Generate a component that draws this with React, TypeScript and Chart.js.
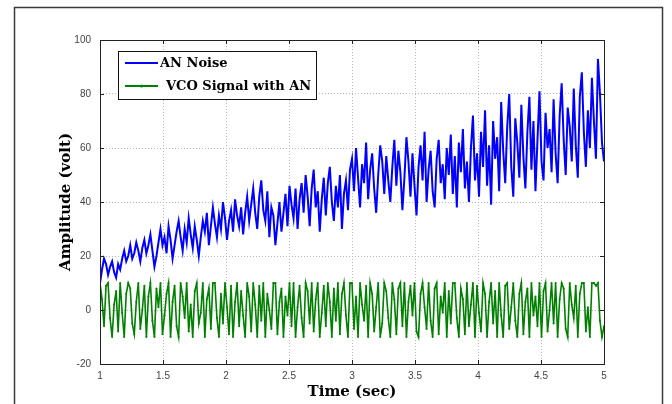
import React, { useEffect, useRef } from "react";
import { Chart, registerables } from "chart.js";

Chart.register(...registerables);

// Sampling grid of the time axis (sec)
const TIME_START = 1;
const TIME_STEP = 0.016;

const X_TICKS = [1, 1.5, 2, 2.5, 3, 3.5, 4, 4.5, 5];
const Y_TICKS = [-20, 0, 20, 40, 60, 80, 100];

// AN Noise (blue)
const anNoise = [
  10, 15, 19, 17, 13, 16, 18, 14, 12, 17, 15, 19, 22, 18, 20, 24, 19, 21, 25, 22, 18, 23, 26, 21, 24,
  28, 22, 16, 20, 25, 30, 24, 27, 21, 31, 26, 19, 24, 29, 33, 27, 22, 30, 25, 34, 28, 23, 31, 26, 20,
  27, 33, 29, 36, 24, 31, 38, 32, 27, 35, 30, 40, 34, 26, 33, 37, 29, 41, 35, 31, 38, 28, 36, 42, 33,
  39, 45, 36, 30, 42, 48, 37, 33, 44, 27, 38, 35, 24, 32, 40, 29, 36, 43, 31, 46, 39, 34, 45, 30, 41,
  47, 36, 50, 42, 31, 45, 52, 38, 44, 29, 41, 49, 35, 47, 53, 40, 33, 46, 38, 50, 30, 43, 48, 37, 52,
  56, 44, 60, 49, 38, 54, 47, 62, 41, 52, 58, 45, 36, 50, 61, 55, 43, 57, 48, 40, 53, 63, 46, 59, 51,
  37, 49, 64, 55, 42, 58, 46, 35, 53, 61, 48, 66, 40, 52, 59, 44, 38, 56, 63, 47, 54, 41, 60, 50, 65,
  43, 57, 38, 62, 51, 67, 45, 55, 40, 60, 72, 48, 58, 42, 66, 53, 74, 46, 61, 39, 70, 56, 64, 44, 77,
  59, 47, 68, 80, 53, 42, 71, 62, 49, 76, 57, 45, 66, 79, 52, 70, 44, 63, 81, 55, 48, 73, 60, 67, 51,
  78, 58, 47, 72, 84, 63, 50, 75, 68, 55, 82, 61, 49, 79, 88, 66, 53, 74, 60, 86, 70, 56, 93, 80, 62,
  55,
];

// VCO Signal with AN (green)
const vcoSignal = [
  10, 4, -6, 9, 10, -3, -10, 2, 7, -8, 10, -1, -10, 6, 10, 8, -5, -9, 3, 10, -7, 0, 9, -10, 5,
  10, -4, -10, 8, 1, 10, -9, -2, 6, 10, -10, 3, 9, -6, -10, 10, 5, -3, 10, -8, 2, -10, 7, 10, -5,
  -1, 10, -10, 4, 8, -7, 10, 10, -3, -10, 6, -5, 10, 1, -9, 9, -10, 3, 10, -6, 7, -2, -10, 10, 5,
  -8, 10, 2, -10, 9, -4, 10, -10, 6, 0, -7, 10, 10, -9, 3, 8, -10, 5, -2, 10, -6, 10, -10, 1, 9,
  -3, -10, 10, 7, -5, 10, -8, 4, 10, -10, -1, 9, -6, 10, 3, -10, 8, -4, 10, -9, 6, 10, -2, -10, 10,
  10, -7, 5, -10, 10, 2, -4, 9, -10, 10, 6, -8, 1, 10, -10, -5, 10, 7, -3, -10, 10, 4, -9, 8, 10,
  -6, 10, -10, 3, 9, -2, 10, -8, -10, 6, 10, 1, -7, 10, -4, -10, 8, 10, -9, 5, -1, 10, -10, 7, -5,
  10, 10, -3, -10, 8, 4, -9, 10, -6, 2, 10, -10, 9, -1, -8, 10, 6, -10, 3, 10, -5, 7, -10, 10, -2,
  -10, 9, 10, -7, 1, 10, -4, -10, 6, 10, -9, 3, 8, -10, 10, -2, 5, -6, 10, -10, 7, 10, -8, 0, 10,
  -5, 10, -10, 4, 10, 8, -7, -10, 10, 2, -3, 9, -10, 6, 10, 10, -8, 1, -10, 10, 10, 9, 10, -4, -10,
  -6,
];

const SERIES_LABELS = ["AN Noise", "VCO Signal with AN"];
const X_TITLE = "Time (sec)";
const Y_TITLE = "Amplitude (volt)";

const toPoints = (vals: number[]) =>
  vals.map((v, i) => ({ x: +(TIME_START + i * TIME_STEP).toFixed(3), y: v }));

const framePlugin = {
  id: "frame",
  beforeDraw(chart: any) {
    const { ctx, width, height } = chart;
    ctx.save();
    ctx.fillStyle = "#ffffff";
    ctx.fillRect(0, 0, width, height);
    ctx.strokeStyle = "#3a3a3a";
    ctx.lineWidth = 1.5;
    ctx.strokeRect(14.5, 7.5, 648, height + 20);
    ctx.restore();
  },
};

const boxPlugin = {
  id: "plotbox",
  afterDatasetsDraw(chart: any) {
    const { ctx, chartArea: a, scales } = chart;
    ctx.save();
    ctx.strokeStyle = "#222";
    ctx.lineWidth = 1;
    ctx.strokeRect(a.left + 0.5, a.top + 0.5, a.right - a.left, a.bottom - a.top);
    ctx.beginPath();
    const L = 4;
    X_TICKS.forEach((t) => {
      const x = Math.round(scales.x.getPixelForValue(t)) + 0.5;
      ctx.moveTo(x, a.bottom);
      ctx.lineTo(x, a.bottom - L);
      ctx.moveTo(x, a.top);
      ctx.lineTo(x, a.top + L);
    });
    Y_TICKS.forEach((t) => {
      const y = Math.round(scales.y.getPixelForValue(t)) + 0.5;
      ctx.moveTo(a.left, y);
      ctx.lineTo(a.left + L, y);
      ctx.moveTo(a.right, y);
      ctx.lineTo(a.right - L, y);
    });
    ctx.stroke();
    ctx.restore();
  },
};

const legendPlugin = {
  id: "customLegend",
  afterDraw(chart: any) {
    const { ctx } = chart;
    const x0 = 118, y0 = 51, w = 198, h = 48;
    ctx.save();
    ctx.fillStyle = "#ffffff";
    ctx.fillRect(x0, y0, w, h);
    ctx.strokeStyle = "#111";
    ctx.lineWidth = 1;
    ctx.strokeRect(x0 + 0.5, y0 + 0.5, w, h);
    const rows = [63, 86];
    chart.data.datasets.forEach((ds: any, i: number) => {
      const y = rows[i];
      ctx.strokeStyle = ds.borderColor;
      ctx.lineWidth = 2;
      ctx.beginPath();
      ctx.moveTo(125, y);
      ctx.lineTo(158, y);
      ctx.stroke();
      if (i === 1) {
        ctx.fillStyle = ds.borderColor;
        ctx.beginPath();
        ctx.arc(141.5, y, 1.5, 0, Math.PI * 2);
        ctx.fill();
      }
      ctx.fillStyle = "#000";
      ctx.font = "bold 13px 'DejaVu Serif'";
      ctx.textBaseline = "middle";
      ctx.textAlign = "left";
      ctx.fillText(ds.label, i === 0 ? 160 : 166, y + 1);
    });
    ctx.restore();
  },
};

export default function App() {
  const ref = useRef<HTMLCanvasElement | null>(null);

  useEffect(() => {
    if (!ref.current) return;
    const tickFont = { family: "'Liberation Sans', Arial, sans-serif", size: 10 };
    const titleFont = { family: "'DejaVu Serif', serif", size: 15, weight: "bold" as const };
    const chart = new Chart(ref.current, {
      type: "line",
      data: {
        datasets: [
          {
            label: SERIES_LABELS[0],
            data: toPoints(anNoise),
            borderColor: "#0000ff",
            backgroundColor: "#0000ff",
            borderWidth: 2,
            pointRadius: 0,
            tension: 0,
          },
          {
            label: SERIES_LABELS[1],
            data: toPoints(vcoSignal),
            borderColor: "#008000",
            backgroundColor: "#008000",
            borderWidth: 1.6,
            pointRadius: 1,
            pointBorderWidth: 0,
            tension: 0,
          },
        ],
      },
      options: {
        animation: false,
        responsive: false,
        layout: { padding: { left: 0, top: 40, right: 68, bottom: 0 } },
        plugins: {
          legend: { display: false },
          tooltip: { enabled: false },
        },
        scales: {
          x: {
            type: "linear",
            min: 1,
            max: 5,
            afterBuildTicks: (s: any) => {
              s.ticks = X_TICKS.map((v) => ({ value: v }));
            },
            afterFit: (s: any) => {
              s.height = 40;
            },
            ticks: {
              color: "#444",
              font: tickFont,
              padding: 6,
              maxRotation: 0,
              callback: (v: any) => String(v),
            },
            grid: { color: "#b8b8b8", lineWidth: 1, drawTicks: false },
            border: { display: false, dash: [1, 2] },
            title: {
              display: true,
              text: X_TITLE,
              color: "#000",
              font: titleFont,
              padding: { top: 0, bottom: 3 },
            },
          },
          y: {
            type: "linear",
            min: -20,
            max: 100,
            afterBuildTicks: (s: any) => {
              s.ticks = Y_TICKS.map((v) => ({ value: v }));
            },
            afterFit: (s: any) => {
              s.width = 100;
            },
            ticks: { color: "#444", font: tickFont, padding: 9, callback: (v: any) => String(v) },
            grid: { color: "#b8b8b8", lineWidth: 1, drawTicks: false },
            border: { display: false, dash: [1, 2] },
            title: {
              display: true,
              text: Y_TITLE,
              color: "#000",
              font: titleFont,
              padding: { top: 57, bottom: 0 },
            },
          },
        },
      },
      plugins: [framePlugin, boxPlugin, legendPlugin],
    });
    return () => chart.destroy();
  }, []);

  return (
    <div style={{ position: "fixed", left: 0, top: 0, width: 672, height: 404, background: "#fff" }}>
      <canvas ref={ref} width={672} height={404} style={{ display: "block" }} />
    </div>
  );
}
